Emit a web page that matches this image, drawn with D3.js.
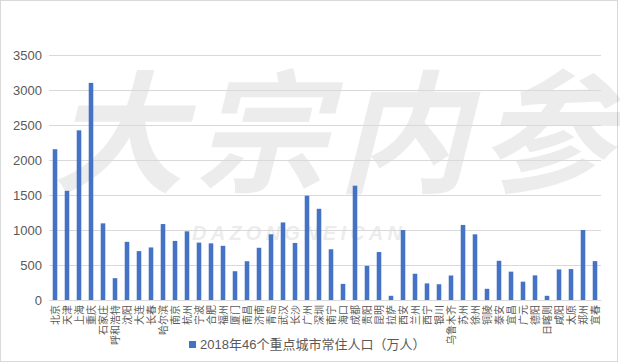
<!DOCTYPE html>
<html>
<head>
<meta charset="utf-8">
<script src="https://cdn.jsdelivr.net/npm/d3@7"></script>
<style>
  body { margin: 0; background: #fff; }
  text { font-family: "Liberation Sans", Arial, "Noto Sans CJK SC", sans-serif; }
</style>
</head>
<body>
<div id="chart"></div>
<script>
var cities = ["北京","天津","上海","重庆","石家庄","呼和浩特","沈阳","大连","长春","哈尔滨",
  "南京","杭州","宁波","合肥","福州","厦门","南昌","济南","青岛","武汉",
  "长沙","广州","深圳","南宁","海口","成都","贵阳","昆明","拉萨","西安",
  "兰州","西宁","银川","乌鲁木齐","苏州","徐州","铜陵","泰安","宜昌","广元",
  "德阳","日喀则","咸阳","太原","郑州","宜春"];
var population = [2154,1560,2424,3102,1095,312,831,698,751,1085,
  844,981,820,809,774,411,554,746,939,1108,
  815,1490,1303,725,230,1633,488,685,60,1000,
  375,237,225,350,1072,938,160,560,405,262,
  352,60,437,442,1000,555];
var yTicks = [0,500,1000,1500,2000,2500,3000,3500];
var legendLabel = "2018年46个重点城市常住人口（万人）";

var width = 620, height = 362;
var margin = {top: 55, right: 19, bottom: 62, left: 49};

var svg = d3.select("#chart").append("svg")
    .attr("width", width)
    .attr("height", height)

// frame
svg.append("rect")
    .attr("x", 0.5).attr("y", 0.5)
    .attr("width", 617).attr("height", height - 1)
    .attr("fill", "#fff")
    .attr("stroke", "#d9d9d9")

var x = d3.scaleBand()
    .domain(cities)
    .range([margin.left, width - margin.right])
    .paddingInner(0.62)
    .paddingOuter(0.31)

var y = d3.scaleLinear()
    .domain([0, 3500])
    .range([height - margin.bottom, margin.top])

// watermark (kept right of the y labels)
var mark = svg.append("g").attr("opacity", 0.07)
mark.append("text")
    .text("大宗内参")
    .attr("x", 52).attr("y", 182)
    .attr("textLength", 560)
    .attr("font-size", 132)
    .attr("font-weight", "bold")
    .attr("font-style", "italic")
    .attr("font-family", "Noto Sans CJK SC")
    .attr("fill", "#000")
mark.append("text")
    .text("DAZONGNEICAN")
    .attr("x", 192).attr("y", 240)
    .attr("textLength", 210)
    .attr("font-size", 20)
    .attr("font-weight", "bold")
    .attr("font-style", "italic")
    .attr("fill", "#000")

// grid + y labels
var yAxis = svg.append("g")
    .attr("transform", "translate(" + margin.left + ",0)")
    .call(d3.axisLeft(y).tickValues(yTicks).tickFormat(d3.format("d"))
        .tickSize(-(width - margin.left - margin.right)).tickPadding(7))
yAxis.select(".domain").remove()
yAxis.selectAll("line").attr("stroke", "#d9d9d9")
yAxis.selectAll("text")
    .attr("font-size", 13)
    .attr("fill", "#595959")
    .attr("font-family", "Liberation Sans, Arial, sans-serif")

// bars
svg.append("g").selectAll("rect")
    .data(cities)
    .enter().append("rect")
    .attr("x", d => x(d))
    .attr("width", x.bandwidth())
    .attr("y", (d, i) => y(population[i]))
    .attr("height", (d, i) => y(0) - y(population[i]))
    .attr("fill", "#4472c4")

// x labels, rotated
var xAxis = svg.append("g")
    .attr("transform", "translate(0," + y(0) + ")")
    .call(d3.axisBottom(x).tickSize(0).tickPadding(0))
xAxis.select(".domain").attr("stroke", "#d9d9d9")
xAxis.selectAll("text")
    .attr("font-size", 10)
    .attr("fill", "#595959")
    .attr("font-family", "Noto Sans CJK SC")
    .attr("text-anchor", "end")
    .attr("dy", "0.35em")
    .attr("transform", "translate(0,5) rotate(-90)")
    .attr("x", 0).attr("y", 0)

// legend
var legend = svg.append("g")
    .attr("transform", "translate(189,341)")
legend.append("rect")
    .attr("width", 7).attr("height", 7)
    .attr("fill", "#4472c4")
legend.append("text")
    .text(legendLabel)
    .attr("x", 11).attr("y", 8)
    .attr("font-size", 13)
    .attr("fill", "#595959")
</script>
</body>
</html>
